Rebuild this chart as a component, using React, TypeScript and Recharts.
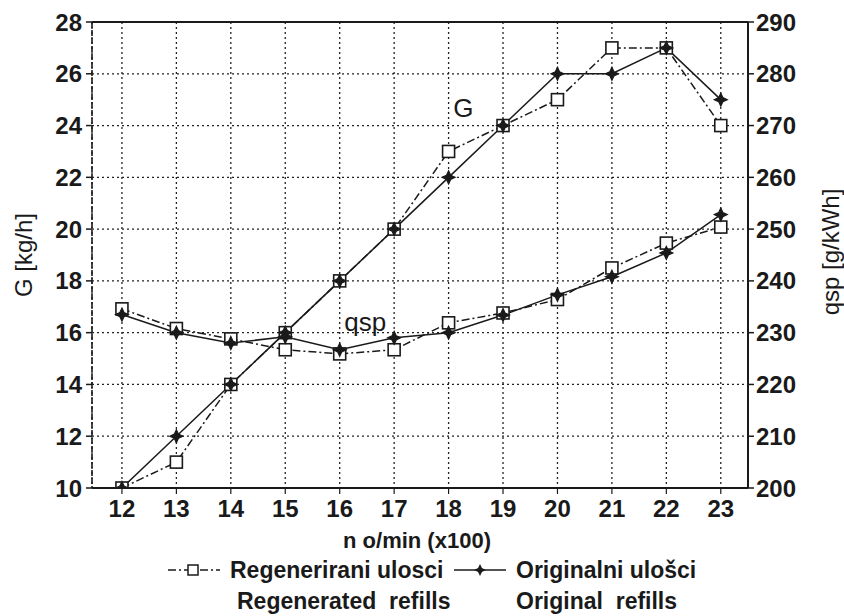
import React from 'react';
import {
  LineChart, Line, XAxis, YAxis, CartesianGrid, Legend, ReferenceLine, ReferenceDot,
} from 'recharts';

const rpm = [12, 13, 14, 15, 16, 17, 18, 19, 20, 21, 22, 23];
const gRegenerated = [10, 11, 14, 16, 18, 20, 23, 24, 25, 27, 27, 24];
const gOriginal = [10, 12, 14, 16, 18, 20, 22, 24, 26, 26, 27, 25];
const qspRegenerated = [234.6, 230.8, 228.8, 226.7, 225.9, 226.7, 231.9, 233.8, 236.4, 242.5, 247.3, 250.4];
const qspOriginal = [233.5, 230, 228, 229.2, 226.7, 229, 230, 233.4, 237.3, 240.8, 245.4, 252.8];

const xTicks = [12, 13, 14, 15, 16, 17, 18, 19, 20, 21, 22, 23];
const gTicks = [10, 12, 14, 16, 18, 20, 22, 24, 26, 28];
const qspTicks = [200, 210, 220, 230, 240, 250, 260, 270, 280, 290];

const data = rpm.map((n, i) => ({
  n,
  gReg: gRegenerated[i],
  gOrig: gOriginal[i],
  qReg: qspRegenerated[i],
  qOrig: qspOriginal[i],
}));

const INK = '#1a1a1a';
const FONT = 'Arial, "Liberation Sans", Helvetica, sans-serif';

const SquareDot = (props: any) => {
  const { cx, cy, index } = props;
  if (cx == null || cy == null) return <g key={index} />;
  return (
    <rect key={index} x={cx - 6} y={cy - 6} width={12} height={12} fill="#fff" stroke={INK} strokeWidth={1.6} />
  );
};

const starPath = (cx: number, cy: number, r: number) => {
  const s = r * 0.32;
  return `M${cx},${cy - r} L${cx + s},${cy - s} L${cx + r},${cy} L${cx + s},${cy + s} L${cx},${cy + r} L${cx - s},${cy + s} L${cx - r},${cy} L${cx - s},${cy - s} Z`;
};

const StarDot = (props: any) => {
  const { cx, cy, index } = props;
  if (cx == null || cy == null) return <g key={index} />;
  return <path key={index} d={starPath(cx, cy, 6.5)} fill={INK} stroke={INK} strokeWidth={1.2} />;
};

const LegendContent = () => (
  <div style={{ position: 'relative', width: 844, height: 63, fontFamily: FONT, fontWeight: 'bold', fontSize: 23, color: INK }}>
    <svg width={52} height={14} style={{ position: 'absolute', left: 168, top: 10 }}>
      <line x1={0} y1={7} x2={52} y2={7} stroke={INK} strokeWidth={1.5} strokeDasharray="8 3 2 3" />
      <rect x={20} y={2} width={10} height={10} fill="#fff" stroke={INK} strokeWidth={1.5} />
    </svg>
    <span style={{ position: 'absolute', left: 230, top: 4, lineHeight: '26px', whiteSpace: 'nowrap' }}>Regenerirani ulosci</span>
    <svg width={52} height={14} style={{ position: 'absolute', left: 454, top: 10 }}>
      <line x1={0} y1={7} x2={52} y2={7} stroke={INK} strokeWidth={1.5} />
      <path d={starPath(26, 7, 6)} fill={INK} />
    </svg>
    <span style={{ position: 'absolute', left: 516, top: 4, lineHeight: '26px', whiteSpace: 'nowrap' }}>Originalni ulošci</span>
    <span style={{ position: 'absolute', left: 237, top: 35, lineHeight: '26px', whiteSpace: 'pre' }}>Regenerated  refills</span>
    <span style={{ position: 'absolute', left: 516, top: 35, lineHeight: '26px', whiteSpace: 'pre' }}>Original  refills</span>
  </div>
);

const tickStyle = { fontSize: 24, fill: INK, fontFamily: FONT };

const LeftLabel = (props: any) => {
  const vb = props.viewBox || {};
  const x = vb.x + 3;
  const y = vb.y + vb.height / 2;
  return (
    <text x={x} y={y} transform={`rotate(-90 ${x} ${y})`} textAnchor="middle" dominantBaseline="central"
      fontSize={24} fill={INK} fontFamily={FONT}>G [kg/h]</text>
  );
};

const RightLabel = (props: any) => {
  const vb = props.viewBox || {};
  const x = vb.x + 82;
  const y = vb.y + vb.height / 2 - 3;
  return (
    <text x={x} y={y} transform={`rotate(-90 ${x} ${y})`} textAnchor="middle" dominantBaseline="central"
      fontSize={24} fill={INK} fontFamily={FONT}>qsp [g/kWh]</text>
  );
};

const BottomLabel = (props: any) => {
  const vb = props.viewBox || {};
  const x = vb.x + vb.width / 2 - 3;
  const y = vb.y + 52;
  return (
    <text x={x} y={y} textAnchor="middle" dominantBaseline="central" fontSize={22} fontWeight="bold" fill={INK} fontFamily={FONT}>
      n o/min (x100)
    </text>
  );
};

export default function App() {
  return (
    <div style={{ position: 'absolute', left: 0, top: 0, width: 844, height: 616, background: '#fff' }}>
      <LineChart
        width={844}
        height={616}
        data={data}
        margin={{ top: 22, right: 36, bottom: 0, left: 20 }}
        style={{ fontFamily: FONT }}
      >
        <CartesianGrid yAxisId="left" stroke="#222" strokeWidth={1.3} strokeDasharray="2 3" />
        <XAxis
          dataKey="n"
          type="number"
          domain={[11.45, 23.5]}
          ticks={xTicks}
          allowDataOverflow
          height={65}
          tickSize={6}
          tickMargin={6}
          tick={{ ...tickStyle, fontWeight: 'bold' }}
          tickLine={{ stroke: INK, strokeWidth: 1.2 }}
          axisLine={{ stroke: INK, strokeWidth: 2 }}
          label={<BottomLabel />}
        />
        <YAxis
          yAxisId="left"
          orientation="left"
          domain={[10, 28]}
          ticks={gTicks}
          allowDataOverflow
          width={72}
          tickSize={6}
          tickMargin={4}
          tick={{ ...tickStyle, fontWeight: 'bold' }}
          tickLine={{ stroke: INK, strokeWidth: 1.5 }}
          axisLine={{ stroke: INK, strokeWidth: 1.6, strokeDasharray: '6 2' }}
          label={<LeftLabel />}
        />
        <YAxis
          yAxisId="right"
          orientation="right"
          domain={[200, 290]}
          ticks={qspTicks}
          allowDataOverflow
          width={60}
          tickSize={6}
          tickMargin={2}
          tick={{ ...tickStyle, fontWeight: 'bold' }}
          tickLine={{ stroke: INK, strokeWidth: 1.5 }}
          axisLine={{ stroke: INK, strokeWidth: 2 }}
          label={<RightLabel />}
        />
        <ReferenceLine yAxisId="left" y={28} stroke={INK} strokeWidth={2} />
        <Line yAxisId="left" dataKey="gReg" stroke={INK} strokeWidth={1.5} strokeDasharray="8 3 2 3"
          dot={SquareDot} activeDot={false} isAnimationActive={false} />
        <Line yAxisId="right" dataKey="qReg" stroke={INK} strokeWidth={1.5} strokeDasharray="8 3 2 3"
          dot={SquareDot} activeDot={false} isAnimationActive={false} />
        <Line yAxisId="left" dataKey="gOrig" stroke={INK} strokeWidth={1.5}
          dot={StarDot} activeDot={false} isAnimationActive={false} />
        <Line yAxisId="right" dataKey="qOrig" stroke={INK} strokeWidth={1.5}
          dot={StarDot} activeDot={false} isAnimationActive={false} />
        <ReferenceDot yAxisId="left" x={18.27} y={24.68} r={0} fill="none" stroke="none"
          label={{ value: 'G', position: 'center', fontSize: 26, fill: INK, fontFamily: FONT }} />
        <ReferenceDot yAxisId="left" x={16.47} y={16.42} r={0} fill="none" stroke="none"
          label={{ value: 'qsp', position: 'center', fontSize: 26, fill: INK, fontFamily: FONT }} />
        <Legend
          verticalAlign="bottom"
          content={<LegendContent />}
          wrapperStyle={{ position: 'absolute', left: 0, top: 553, width: 844, height: 63 }}
        />
      </LineChart>
    </div>
  );
}
